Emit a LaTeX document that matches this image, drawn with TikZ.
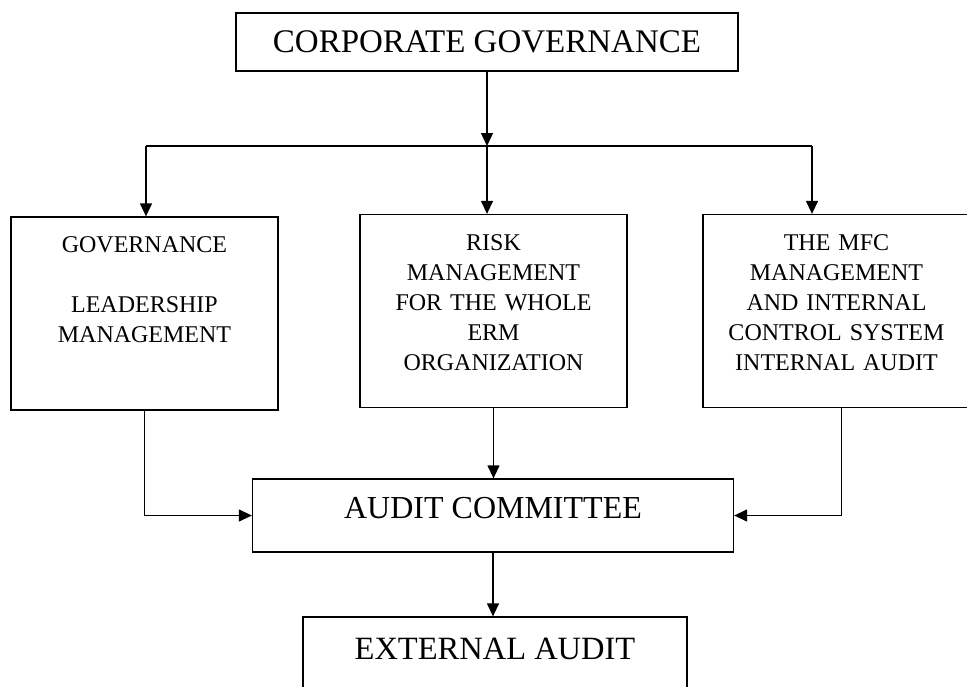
\documentclass[tikz,border=0pt]{standalone}
\usepackage{fontspec}
\setmainfont{Liberation Serif}
\usetikzlibrary{positioning,calc,arrows.meta}

\begin{document}
\begin{tikzpicture}[x=1pt, y=-1pt,
    line width=1.3pt,
    box/.style={draw, rectangle, inner sep=0pt},
    tallbox/.style={box, minimum width=267pt, minimum height=193pt},
    tallbox text/.style={align=center, text width=260pt, font=\fontsize{24}{30}\selectfont},
    arr/.style={-{Triangle[length=13pt,width=12pt]}}]
    \useasboundingbox (0,0) rectangle (967,686);
    % top
    \node[box, minimum width=502pt, text height=39pt, text depth=19pt, font=\fontsize{33}{36}\selectfont] (gov) at (487,42) {CORPORATE GOVERNANCE};
    \coordinate (split) at (487,146);
    \coordinate (barL) at (146,146);
    \coordinate (barR) at (812,146);
    % three boxes
    \node[tallbox] (lead) at (144.5,313.5) {};
    \node[tallbox] (risk) at (493.5,311) {};
    \node[tallbox] (mfc) at (836.5,311) {};
    \node[tallbox text] (leadtxt) at (144.5,290) {GOVERNANCE\\[30pt]LEADERSHIP\\MANAGEMENT};
    \node[tallbox text] (risktxt) at (493.5,303) {RISK\\MANAGEMENT\\FOR THE WHOLE\\ERM\\ORGANIZATION};
    \node[tallbox text] (mfctxt) at (836.5,303) {THE MFC\\MANAGEMENT\\AND INTERNAL\\CONTROL SYSTEM\\INTERNAL AUDIT};
    % bottom
    \node[box, minimum width=481pt, text height=39.5pt, text depth=33.5pt, font=\fontsize{32}{36}\selectfont] (audit) at (493,515.5) {AUDIT COMMITTEE};
    \node[box, minimum width=384pt, text height=42pt, text depth=33pt, font=\fontsize{32.5}{36}\selectfont] (ext) at (495,654.5) {EXTERNAL AUDIT};
    % connectors
    \draw[arr] (gov) -- (split);
    \draw (barL) -- (barR);
    \draw[arr] (barL) -- (barL |- lead.north);
    \draw[arr] (split) -- (split |- risk.north);
    \draw[arr] (barR) -- (barR |- mfc.north);
    \draw[arr] (lead.south) |- (audit.west);
    \draw[arr] (risk.south) -- (risk.south |- audit.north);
    \draw[arr] ([xshift=5pt]mfc.south) |- (audit.east);
    \draw[arr] (audit.south) -- (audit.south |- ext.north);
\end{tikzpicture}
\end{document}
